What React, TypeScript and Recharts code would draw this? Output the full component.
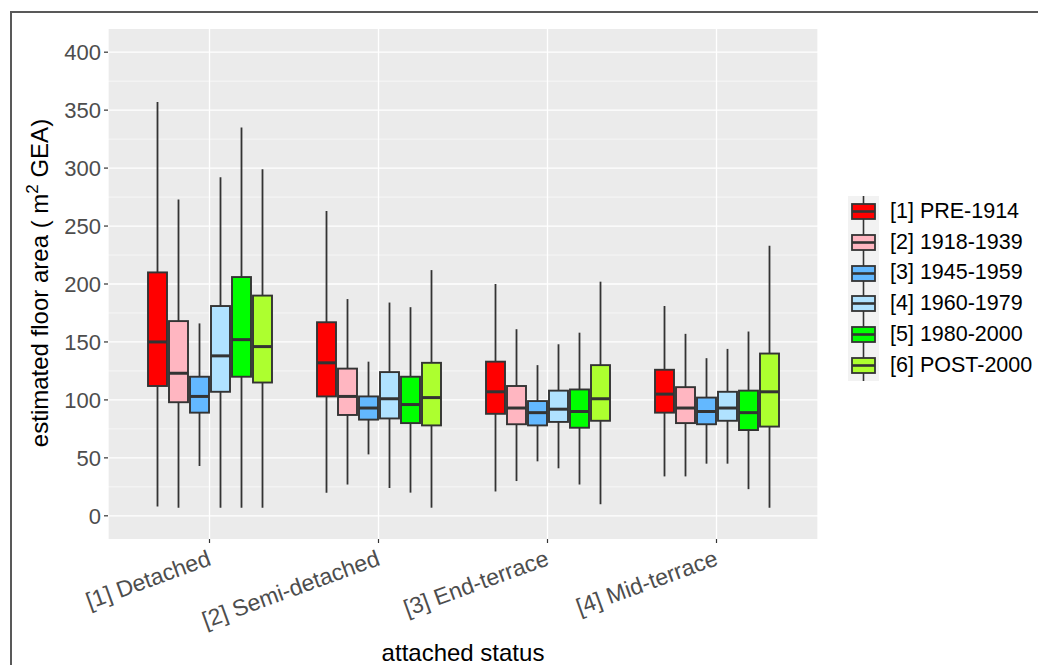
import React from 'react';
import { ComposedChart, Bar, XAxis, YAxis, CartesianGrid } from 'recharts';

const categories = ['[1] Detached', '[2] Semi-detached', '[3] End-terrace', '[4] Mid-terrace'];

const seriesNames = ['[1] PRE-1914', '[2] 1918-1939', '[3] 1945-1959', '[4] 1960-1979', '[5] 1980-2000', '[6] POST-2000'];
const seriesColors = ['#FF0000', '#FFB6C1', '#63B8FF', '#B0E2FF', '#00FF00', '#ADFF2F'];

// one row per series, one value per category
const whiskerLow = [
  [8, 20, 21, 34],
  [7, 27, 30, 34],
  [43, 53, 47, 45],
  [7, 24, 41, 45],
  [7, 20, 27, 23],
  [7, 7, 10, 7],
];
const lowerQuartile = [
  [112, 103, 88, 89],
  [98, 87, 79, 80],
  [89, 83, 78, 79],
  [107, 84, 81, 82],
  [120, 80, 76, 74],
  [115, 78, 82, 77],
];
const medians = [
  [150, 132, 107, 105],
  [123, 103, 93, 93],
  [103, 93, 89, 90],
  [138, 101, 92, 93],
  [152, 96, 90, 89],
  [146, 102, 101, 107],
];
const upperQuartile = [
  [210, 167, 133, 126],
  [168, 127, 112, 111],
  [120, 103, 99, 102],
  [181, 124, 108, 107],
  [206, 120, 109, 108],
  [190, 132, 130, 140],
];
const whiskerHigh = [
  [357, 263, 200, 181],
  [273, 187, 161, 157],
  [166, 133, 130, 136],
  [292, 184, 148, 144],
  [335, 180, 158, 159],
  [299, 212, 202, 233],
];

const yTicks = [0, 50, 100, 150, 200, 250, 300, 350, 400];
const yMinor = [-25, 25, 75, 125, 175, 225, 275, 325, 375, 425];

const data = categories.map((name, i) => {
  const row: any = { name };
  seriesNames.forEach((_, k) => {
    row[`range${k}`] = [whiskerLow[k][i], whiskerHigh[k][i]];
    row[`stats${k}`] = {
      min: whiskerLow[k][i],
      q1: lowerQuartile[k][i],
      med: medians[k][i],
      q3: upperQuartile[k][i],
      max: whiskerHigh[k][i],
    };
  });
  return row;
});

const EDGE = '#333333';

const BoxShape = (props: any) => {
  const { x, y, width, height, payload, k } = props;
  const s = payload[`stats${k}`];
  const top = Math.min(y, y + height);
  const h = Math.abs(height);
  const py = (v: number) => top + ((s.max - v) / (s.max - s.min)) * h;
  const cx = x + width / 2;
  return (
    <g>
      <line x1={cx} x2={cx} y1={py(s.max)} y2={py(s.min)} stroke={EDGE} strokeWidth={1.8} />
      <rect x={x} y={py(s.q3)} width={width} height={py(s.q1) - py(s.q3)} fill={seriesColors[k]} stroke={EDGE} strokeWidth={1.9} />
      <line x1={x} x2={x + width} y1={py(s.med)} y2={py(s.med)} stroke={EDGE} strokeWidth={3} />
    </g>
  );
};

const XTick = (props: any) => {
  const { x, y, payload } = props;
  return (
    <g transform={`translate(${x - 3},${y + 4})`}>
      <text transform="rotate(-20)" textAnchor="end" dy="0.72em" fill="#4D4D4D" fontSize={23}>
        {payload.value}
      </text>
    </g>
  );
};

const YTitle = () => (
  <text transform="translate(48,283) rotate(-90)" textAnchor="middle" fill="#000" fontSize={24}>
    estimated floor area ( m<tspan dy={-10} fontSize={17}>2</tspan>
    <tspan dy={10}> GEA)</tspan>
  </text>
);

const LegendBox = () => (
  <div style={{ position: 'absolute', left: 848, top: 196, display: 'flex', flexDirection: 'column' }}>
    {seriesNames.map((n, k) => (
      <div key={n} style={{ display: 'flex', alignItems: 'center', height: 30.8 }}>
        <svg width={31} height={31} style={{ display: 'block' }}>
          <rect x={0} y={0} width={31} height={31} fill="#F2F2F2" />
          <line x1={15.5} x2={15.5} y1={0} y2={31} stroke={EDGE} strokeWidth={1.6} />
          <rect x={4} y={8} width={23} height={15} fill={seriesColors[k]} stroke={EDGE} strokeWidth={1.8} />
          <line x1={4} x2={27} y1={15.5} y2={15.5} stroke={EDGE} strokeWidth={2.6} />
        </svg>
        <span style={{ marginLeft: 11, fontSize: 21.5, color: '#000', whiteSpace: 'nowrap' }}>{n}</span>
      </div>
    ))}
  </div>
);

export default function App() {
  return (
    <div
      style={{
        position: 'absolute',
        left: 0,
        top: 0,
        width: 1038,
        height: 665,
        overflow: 'hidden',
        background: '#fff',
        fontFamily: '"Liberation Sans", Arial, sans-serif',
      }}
    >
      <div
        style={{
          position: 'absolute',
          left: 10,
          top: 11,
          width: 1060,
          height: 700,
          border: '2px solid #595959',
        }}
      />
      <ComposedChart
        width={1038}
        height={665}
        data={data}
        margin={{ top: 29, right: 220, left: 0, bottom: 0 }}
        barGap={2}
        style={{ position: 'absolute', left: 0, top: 0 }}
      >
        <CartesianGrid
          fill="#EBEBEB"
          stroke="#FFFFFF"
          strokeWidth={0.6}
          vertical={false}
          horizontalValues={yMinor}
        />
        <CartesianGrid stroke="#FFFFFF" strokeWidth={1.3} horizontalValues={yTicks} />
        <XAxis
          dataKey="name"
          type="category"
          padding={{ left: 17, right: 17 }}
          height={126}
          axisLine={false}
          tickLine={{ stroke: EDGE, strokeWidth: 1.2 }}
          tickSize={4}
          tick={<XTick />}
          interval={0}
          label={{ value: 'attached status', position: 'insideBottom', offset: 4, fill: '#000', fontSize: 24 }}
        />
        <YAxis
          type="number"
          domain={[-20, 420]}
          ticks={yTicks}
          allowDataOverflow
          width={108}
          axisLine={false}
          tickLine={{ stroke: EDGE, strokeWidth: 1.2 }}
          tickSize={4}
          tickMargin={3}
          tick={{ fill: '#4D4D4D', fontSize: 22 }}
          label={<YTitle />}
        />
        {seriesNames.map((n, k) => (
          <Bar
            key={n}
            name={n}
            dataKey={`range${k}`}
            fill={seriesColors[k]}
            barSize={19}
            isAnimationActive={false}
            shape={(p: any) => <BoxShape {...p} k={k} />}
          />
        ))}
      </ComposedChart>
      <LegendBox />
    </div>
  );
}
